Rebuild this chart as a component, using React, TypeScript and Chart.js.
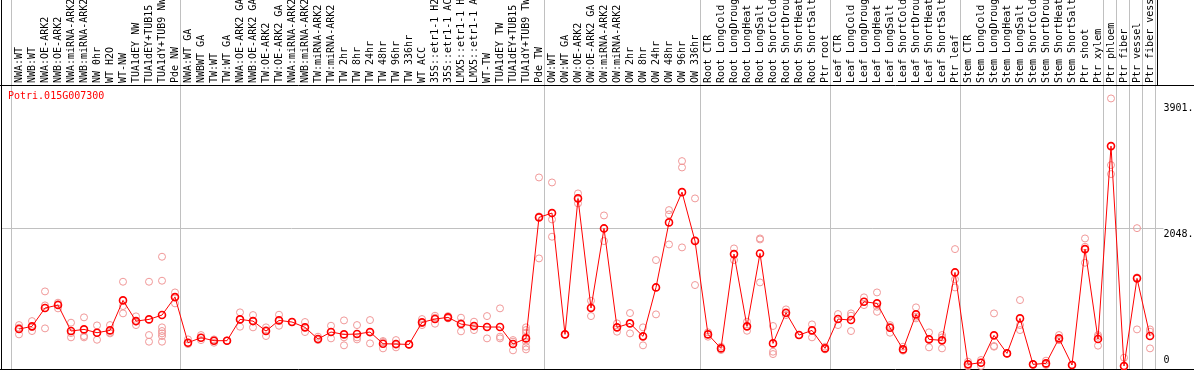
import React, { useEffect, useRef } from 'react';
import { Chart, registerables } from 'chart.js';

Chart.register(...registerables);

const geneId = 'Potri.015G007300';

const categories: string[] = [
  'NWA:WT', 'NWB:WT', 'NWA:OE-ARK2', 'NWB:OE-ARK2', 'NWA:miRNA-ARK2', 'NWB:miRNA-ARK2', 'NW 0hr', 'WT H2O', 'WT-NW',
  'TUA1dEY NW', 'TUA1dEY+TUB15', 'TUA1dY+TUB9 NW', 'Pde NW',
  'NWA:WT GA', 'NWBWT GA', 'TW:WT', 'TW:WT GA', 'NWA:OE-ARK2 GA', 'NWB:OE-ARK2 GA', 'TW:OE-ARK2', 'TW:OE-ARK2 GA',
  'NWA:miRNA-ARK2', 'NWB:miRNA-ARK2', 'TW:miRNA-ARK2', 'TW:miRNA-ARK2', 'TW 2hr', 'TW 8hr', 'TW 24hr', 'TW 48hr',
  'TW 96hr', 'TW 336hr', 'WT ACC', '35S::etr1-1 H2O', '35S::etr1-1 ACC', 'LMX5::etr1-1 H2O', 'LMX5::etr1-1 ACC',
  'WT-TW', 'TUA1dEY TW', 'TUA1dEY+TUB15', 'TUA1dY+TUB9 TW', 'Pde TW',
  'OW:WT', 'OW:WT GA', 'OW:OE-ARK2', 'OW:OE-ARK2 GA', 'OW:miRNA-ARK2', 'OW:miRNA-ARK2', 'OW 2hr', 'OW 8hr',
  'OW 24hr', 'OW 48hr', 'OW 96hr', 'OW 336hr',
  'Root CTR', 'Root LongCold', 'Root LongDrought', 'Root LongHeat', 'Root LongSalt', 'Root ShortCold',
  'Root ShortDrought', 'Root ShortHeat', 'Root ShortSalt', 'Ptr root',
  'Leaf CTR', 'Leaf LongCold', 'Leaf LongDrought', 'Leaf LongHeat', 'Leaf LongSalt', 'Leaf ShortCold',
  'Leaf ShortDrought', 'Leaf ShortHeat', 'Leaf ShortSalt', 'Ptr leaf',
  'Stem CTR', 'Stem LongCold', 'Stem LongDrought', 'Stem LongHeat', 'Stem LongSalt', 'Stem ShortCold',
  'Stem ShortDrought', 'Stem ShortHeat', 'Stem ShortSalt', 'Ptr shoot', 'Ptr xylem',
  'Ptr phloem', 'Ptr fiber', 'Ptr vessel', 'Ptr fiber vessel',
];

const groupSizes: number[] = [13, 28, 12, 10, 10, 11, 1, 1, 1, 1];

const meanValues: number[] = [
  553, 593, 864, 908, 524, 548, 499, 533, 977, 671, 696, 760, 1026,
  351, 425, 381, 381, 696, 671, 524, 681, 657, 578, 405, 509, 474, 479, 509, 336, 331, 326, 652, 701, 726, 627, 598,
  583, 583, 331, 415, 2205,
  2269, 474, 2486, 864, 2042, 578, 637, 445, 1169, 2131, 2579, 1855,
  474, 267, 1662, 593, 1672, 341, 795, 464, 533, 267,
  701, 686, 957, 933, 573, 252, 770, 400, 386, 1391,
  31, 55, 460, 193, 711, 31, 45, 415, 21, 1736, 405,
  3260, 6, 1303, 450,
];

const replicateValues: number[][] = [
  [612, 573, 474], [671, 583, 524], [1110, 903, 563], [943, 923, 859], [647, 494, 430], [726, 450, 430],
  [607, 499, 395], [612, 499, 489], [1253, 893, 785], [741, 662, 612], [1253, 464, 366],
  [1623, 1268, 578, 524, 489, 450, 366], [1095, 1026, 933],
  [400, 351, 331], [464, 425, 390], [400, 381, 351], [381, 381, 381], [800, 696, 588], [760, 671, 578],
  [578, 538, 450], [765, 681, 602], [657, 657, 657], [657, 578, 509], [440, 405, 390], [602, 509, 415],
  [681, 430, 312], [612, 430, 400], [686, 499, 341], [376, 361, 267], [390, 321, 282], [326, 326, 326],
  [701, 642, 612], [750, 721, 632], [745, 721, 711], [721, 642, 519], [662, 593, 538], [745, 583, 415],
  [859, 440, 415], [390, 366, 238], [578, 538, 499, 440, 366, 292, 252], [2796, 2220, 1598],
  [2722, 2175, 1919], [474, 474, 474], [2560, 2486, 2412], [972, 874, 745], [2234, 2042, 1855],
  [637, 578, 514], [790, 637, 489], [578, 445, 312], [1574, 1169, 770], [2313, 2249, 1805],
  [3038, 2944, 1761], [2486, 1869, 1204],
  [504, 474, 440], [292, 267, 243], [1746, 1662, 1574], [662, 593, 528], [1894, 1879, 1243],
  [598, 218, 183], [844, 785, 760], [464, 464, 464], [622, 538, 430], [292, 267, 252],
  [775, 701, 612], [785, 750, 524], [1022, 957, 908], [1095, 883, 809], [612, 588, 499],
  [292, 252, 233], [874, 736, 711], [504, 410, 282], [464, 430, 267], [1736, 1288, 1169],
  [70, 31, 1], [95, 55, 6], [785, 302, 292], [193, 193, 193], [982, 612, 538], [31, 31, 31],
  [85, 35, 21], [464, 390, 390], [21, 21, 21], [1894, 1771, 1534], [464, 440, 307],
  [3965, 2979, 2846], [129, 0, 0], [2046, 1317, 548], [548, 514, 267],
];

const yTickValues: number[] = [0, 2048, 3901];
const yTickLabels: string[] = ['0', '2048.', '3901.'];
const yGridValues: number[] = [2048];

const MONO = '"DejaVu Sans Mono", monospace';

const decorPlugin = {
  id: 'decor',
  beforeDatasetsDraw(chart: any) {
    const ctx = chart.ctx as CanvasRenderingContext2D;
    const xs = chart.scales.x;
    const ys = chart.scales.y;
    const area = chart.chartArea;
    const W = chart.width;
    const H = chart.height;
    ctx.save();
    ctx.lineWidth = 1;
    ctx.strokeStyle = '#c0c0c0';
    const vline = (x: number, y0: number, y1: number) => {
      const px = Math.round(x) + 0.5;
      ctx.beginPath();
      ctx.moveTo(px, y0);
      ctx.lineTo(px, y1);
      ctx.stroke();
    };
    const hline = (y: number, x0: number, x1: number) => {
      const py = Math.round(y) + 0.5;
      ctx.beginPath();
      ctx.moveTo(x0, py);
      ctx.lineTo(x1, py);
      ctx.stroke();
    };
    vline(xs.getPixelForValue(0) - 8.5, 0, area.bottom);
    let idx = -1;
    for (const size of groupSizes) {
      idx += size;
      vline(xs.getPixelForValue(idx) + 5, 0, area.bottom);
    }
    for (const v of yGridValues) {
      hline(ys.getPixelForValue(v) - 0.5, 1, area.right + 7);
    }
    ctx.strokeStyle = '#000000';
    vline(1, 0, H);
    hline(area.top, 0, W);
    hline(area.bottom, 0, W);
    vline(area.right, 0, area.top);
    ctx.fillStyle = '#ff0000';
    ctx.font = `10px ${MONO}`;
    ctx.textBaseline = 'top';
    ctx.textAlign = 'left';
    ctx.fillText(geneId, 8, 91);
    ctx.restore();
  },
};

export default function App() {
  const ref = useRef<HTMLCanvasElement>(null);

  useEffect(() => {
    const meanPoints = meanValues.map((v, i) => ({ x: i, y: v }));
    const repPoints: { x: number; y: number }[] = [];
    replicateValues.forEach((list, i) => list.forEach((v) => repPoints.push({ x: i, y: v })));

    const chart = new Chart(ref.current as HTMLCanvasElement, {
      type: 'line',
      data: {
        datasets: [
          {
            type: 'line',
            label: 'mean',
            data: meanPoints,
            borderColor: '#ff0000',
            borderWidth: 1,
            pointRadius: 3.5,
            pointBorderWidth: 1.6,
            pointBorderColor: '#ff0000',
            pointBackgroundColor: 'rgba(0,0,0,0)',
            tension: 0,
            clip: false as any,
            order: 0,
          },
          {
            type: 'scatter',
            label: 'replicates',
            data: repPoints,
            showLine: false,
            pointRadius: 3.5,
            pointBorderWidth: 1,
            pointBorderColor: '#f09898',
            pointBackgroundColor: 'rgba(0,0,0,0)',
            clip: false as any,
            order: 1,
          },
        ] as any,
      },
      options: {
        animation: false,
        responsive: false,
        maintainAspectRatio: false,
        layout: { autoPadding: false, padding: { left: 12.5, right: 0, top: 0, bottom: 1 } },
        plugins: {
          legend: { display: false },
          tooltip: { enabled: false },
          title: { display: false },
        },
        scales: {
          x: {
            type: 'linear',
            position: 'top',
            min: -0.5,
            max: categories.length - 0.5,
            grid: { display: false, drawTicks: false },
            border: { display: false },
            afterBuildTicks: (s: any) => {
              s.ticks = categories.map((_, i) => ({ value: i }));
            },
            afterFit: (s: any) => {
              s.height = 85;
              s.paddingLeft = 0;
              s.paddingRight = 0;
              s.paddingTop = 0;
              s.paddingBottom = 0;
            },
            ticks: {
              autoSkip: false,
              minRotation: 90,
              maxRotation: 90,
              padding: 2,
              labelOffset: 12.5,
              color: '#000000',
              font: { family: MONO, size: 10 },
              callback: (v: any) => categories[Math.round(Number(v))] ?? '',
            },
          },
          y: {
            type: 'linear',
            position: 'right',
            min: -38,
            max: 4164,
            grid: { display: false, drawTicks: false },
            border: { display: false },
            afterBuildTicks: (s: any) => {
              s.ticks = yTickValues.map((v) => ({ value: v }));
            },
            afterFit: (s: any) => {
              s.width = 37.5;
              s.paddingTop = 0;
              s.paddingBottom = 0;
              s.paddingLeft = 0;
              s.paddingRight = 0;
            },
            ticks: {
              padding: 7,
              color: '#000000',
              font: { family: MONO, size: 10 },
              callback: (v: any) => {
                const i = yTickValues.indexOf(Number(v));
                const t = i >= 0 ? yTickLabels[i] : '';
                return Number(v) === 0 ? [t, ''] : ['', t];
              },
            },
          },
        },
      } as any,
      plugins: [decorPlugin],
    });
    return () => chart.destroy();
  }, []);

  return (
    <div style={{ position: 'absolute', left: 0, top: 0, width: 1194, height: 370, background: '#ffffff' }}>
      <canvas ref={ref} width={1194} height={370} style={{ display: 'block', width: 1194, height: 370 }} />
    </div>
  );
}
